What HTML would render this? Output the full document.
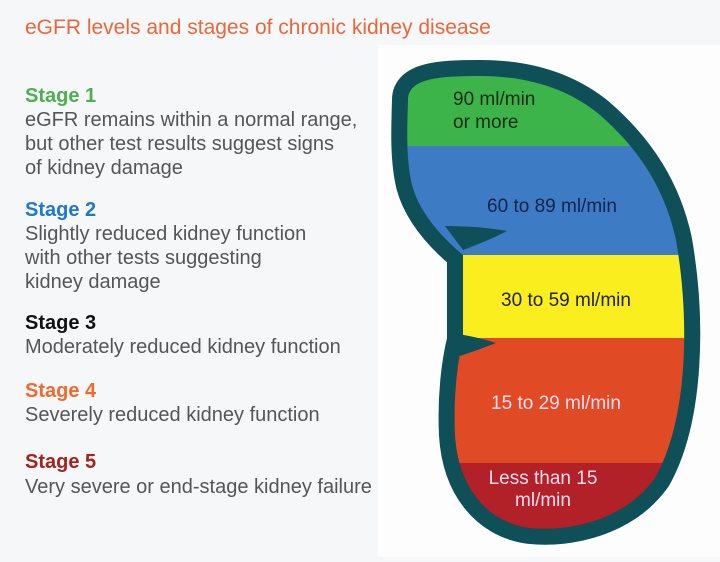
<!DOCTYPE html>
<html><head><meta charset="utf-8"><style>
body{margin:0;width:720px;height:557px;overflow:hidden;background:#f6f7f8;font-family:"Liberation Sans",sans-serif}
</style></head><body>
<svg width="720" height="557" viewBox="0 0 720 557" xmlns="http://www.w3.org/2000/svg" font-family="Liberation Sans, sans-serif">
<rect x="0" y="0" width="720" height="557" fill="#f6f7f8"/>
<rect x="378" y="45" width="342" height="512" fill="#fdfdfd"/>
<text x="25" y="34" font-size="21" fill="#e8683a">eGFR levels and stages of chronic kidney disease</text>
<g font-size="20" fill="#555">
<text x="25" y="102" font-weight="bold" font-size="20" fill="#4caf50">Stage 1</text>
<text x="25" y="126">eGFR remains within a normal range,</text>
<text x="25" y="150">but other test results suggest signs</text>
<text x="25" y="174">of kidney damage</text>
<text x="25" y="216" font-weight="bold" font-size="20" fill="#1f78c8">Stage 2</text>
<text x="25" y="240">Slightly reduced kidney function</text>
<text x="25" y="264">with other tests suggesting</text>
<text x="25" y="288">kidney damage</text>
<text x="25" y="329" font-weight="bold" font-size="20" fill="#111">Stage 3</text>
<text x="25" y="353">Moderately reduced kidney function</text>
<text x="25" y="397" font-weight="bold" font-size="20" fill="#f06a2e">Stage 4</text>
<text x="25" y="421">Severely reduced kidney function</text>
<text x="25" y="468" font-weight="bold" font-size="20" fill="#a3231f">Stage 5</text>
<text x="25" y="493">Very severe or end-stage kidney failure</text>
</g>
<defs><clipPath id="k"><path d="M408 100 C408 78,440 76,480 76 C530 76,570 90,600 115 C640 150,665 190,676 240 C690 320,688 420,655 478 C625 520,570 532,530 528 C485 522,458 485,455 435 C453 395,458 360,463 340 L463 255 C445 240,420 215,412 185 C406 160,407 130,408 100 Z"/></clipPath></defs>
<path d="M408 100 C408 78,440 76,480 76 C530 76,570 90,600 115 C640 150,665 190,676 240 C690 320,688 420,655 478 C625 520,570 532,530 528 C485 522,458 485,455 435 C453 395,458 360,463 340 L463 255 C445 240,420 215,412 185 C406 160,407 130,408 100 Z" fill="#0f4f58" stroke="#0f4f58" stroke-width="32" stroke-linejoin="round"/>
<g clip-path="url(#k)">
<rect x="380" y="60" width="330" height="87" fill="#3cb44a"/>
<rect x="380" y="146" width="330" height="110" fill="#3d7cc4"/>
<rect x="380" y="255" width="330" height="84" fill="#fbee1e"/>
<rect x="380" y="338" width="330" height="126" fill="#e04a25"/>
<rect x="380" y="463" width="330" height="80" fill="#b22028"/>
</g>
<path d="M445 226 Q480 226 507 231 Q490 240 463 250 Z" fill="#0f4f58"/>
<path d="M450 333 Q475 336 496 343 Q478 350 460 356 Z" fill="#0f4f58"/>
<g font-size="19" text-anchor="middle">
<text x="453" y="105" text-anchor="start" fill="#1a2a1a">90 ml/min</text>
<text x="453" y="128" text-anchor="start" fill="#1a2a1a">or more</text>
<text x="552" y="212" fill="#13234a">60 to 89 ml/min</text>
<text x="566" y="306" fill="#222">30 to 59 ml/min</text>
<text x="556" y="409" fill="#fde">15 to 29 ml/min</text>
<text x="543" y="484" fill="#fde">Less than 15</text>
<text x="543" y="506" fill="#fde">ml/min</text>
</g>
</svg>
</body></html>
